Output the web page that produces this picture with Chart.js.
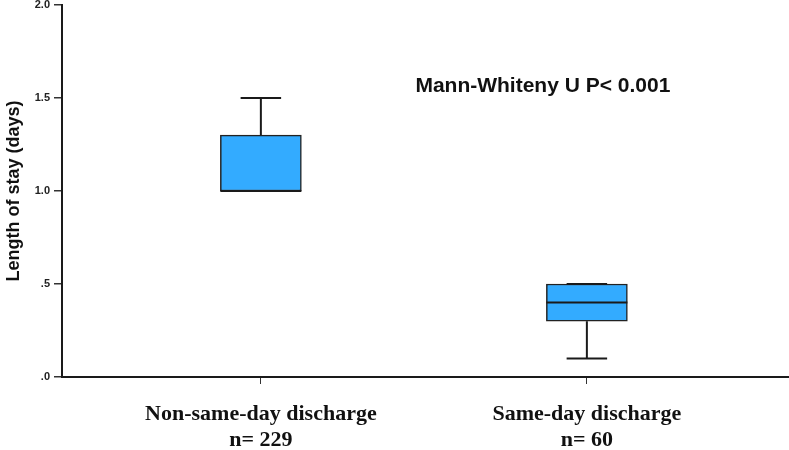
<!DOCTYPE html>
<html>
<head>
<meta charset="utf-8">
<script src="https://cdn.jsdelivr.net/npm/chart.js@4/dist/chart.umd.min.js"></script>
<style>
  html, body { margin: 0; padding: 0; background: #ffffff; }
  #wrap { width: 789px; height: 450px; position: relative; }
</style>
</head>
<body>
<div id="wrap"><canvas id="c" width="789" height="450"></canvas></div>
<script>
// ---- data ----
const categories = ['Non-same-day discharge', 'Same-day discharge'];
const nCounts = [229, 60];
const whiskerLow = [1.0, 0.1];
const q1 = [1.0, 0.3];
const median = [1.0, 0.4];
const q3 = [1.3, 0.5];
const whiskerHigh = [1.5, 0.5];
const yTickValues = [0, 0.5, 1.0, 1.5, 2.0];
const yTickLabels = ['.0', '.5', '1.0', '1.5', '2.0'];
const annotationText = 'Mann-Whiteny U P< 0.001';
const annotationPos = { x: 1.474, y: 1.565 };

const boxData = categories.map((c, i) => ({ x: i + 1, y: [q1[i], q3[i]] }));

const boxPlotPlugin = {
  id: 'boxPlotExtras',
  beforeDatasetsDraw(chart) {
    const { ctx, scales: { x, y } } = chart;
    ctx.save();
    ctx.strokeStyle = '#1a1a1a';
    ctx.lineWidth = 2;
    categories.forEach((c, i) => {
      const px = x.getPixelForValue(i + 1);
      ctx.beginPath();
      ctx.moveTo(px, y.getPixelForValue(q3[i]));
      ctx.lineTo(px, y.getPixelForValue(whiskerHigh[i]));
      ctx.moveTo(px, y.getPixelForValue(q1[i]));
      ctx.lineTo(px, y.getPixelForValue(whiskerLow[i]));
      ctx.stroke();
    });
    ctx.restore();
  },
  afterDatasetsDraw(chart) {
    const { ctx, scales: { x, y } } = chart;
    const meta = chart.getDatasetMeta(0);
    ctx.save();
    ctx.strokeStyle = '#1a1a1a';
    ctx.lineWidth = 2;
    categories.forEach((c, i) => {
      const bar = meta.data[i];
      const half = bar.width / 2;
      const px = x.getPixelForValue(i + 1);
      [whiskerHigh[i], whiskerLow[i]].forEach(v => {
        const py = y.getPixelForValue(v);
        ctx.beginPath();
        ctx.moveTo(px - half / 2, py);
        ctx.lineTo(px + half / 2, py);
        ctx.stroke();
      });
      const pm = y.getPixelForValue(median[i]);
      ctx.beginPath();
      ctx.moveTo(px - half, pm);
      ctx.lineTo(px + half, pm);
      ctx.stroke();
    });
    ctx.fillStyle = '#111111';
    ctx.font = 'bold 21px "Liberation Sans", Arial, sans-serif';
    ctx.textAlign = 'left';
    ctx.textBaseline = 'middle';
    ctx.fillText(annotationText, x.getPixelForValue(annotationPos.x), y.getPixelForValue(annotationPos.y));
    ctx.restore();
  }
};

new Chart(document.getElementById('c'), {
  type: 'bar',
  data: {
    datasets: [{
      data: boxData,
      backgroundColor: '#33abff',
      borderColor: '#222222',
      borderWidth: 1.5,
      borderSkipped: false,
      barThickness: 81
    }]
  },
  options: {
    responsive: false,
    animation: false,
    layout: { padding: { top: 5, right: 0, left: 0, bottom: 0 } },
    plugins: { legend: { display: false }, tooltip: { enabled: false } },
    scales: {
      x: {
        type: 'linear',
        offset: false,
        min: 0.39,
        max: 2.62,
        afterBuildTicks(scale) { scale.ticks = categories.map((c, i) => ({ value: i + 1 })); },
        afterFit(scale) { scale.height = 73; scale.paddingLeft = 0; scale.paddingRight = 0; },
        ticks: {
          autoSkip: false,
          maxRotation: 0,
          padding: 18,
          color: '#111111',
          font: { family: '"Liberation Serif", "Times New Roman", serif', size: 22, weight: 'bold', lineHeight: 1.15 },
          callback(value) {
            const i = Math.round(value) - 1;
            return [categories[i], 'n= ' + nCounts[i]];
          }
        },
        grid: { offset: false, drawOnChartArea: false, drawTicks: true, tickLength: 7, color: '#333333', lineWidth: 1 },
        border: { display: true, color: '#1a1a1a', width: 2 }
      },
      y: {
        min: 0,
        max: 2,
        afterBuildTicks(scale) { scale.ticks = yTickValues.map(v => ({ value: v })); },
        afterFit(scale) { scale.width = 62; scale.paddingTop = 0; scale.paddingBottom = 0; },
        ticks: {
          padding: 4,
          color: '#222222',
          font: { family: '"Liberation Sans", Arial, sans-serif', size: 11, weight: 'bold' },
          callback(value) {
            const i = yTickValues.indexOf(value);
            return i >= 0 ? yTickLabels[i] : '';
          }
        },
        title: {
          display: true,
          text: 'Length of stay (days)',
          color: '#111111',
          font: { family: '"Liberation Sans", Arial, sans-serif', size: 18, weight: 'bold' },
          padding: { top: 3, bottom: 0 }
        },
        grid: { drawOnChartArea: false, drawTicks: true, tickLength: 8, color: '#333333', lineWidth: 1.5 },
        border: { display: true, color: '#1a1a1a', width: 2 }
      }
    }
  },
  plugins: [boxPlotPlugin]
});
</script>
</body>
</html>
